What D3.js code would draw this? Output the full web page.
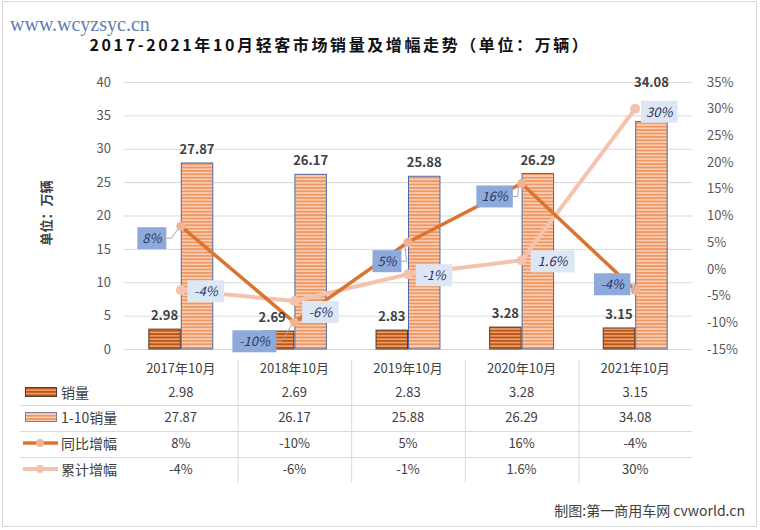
<!DOCTYPE html>
<html>
<head>
<meta charset="utf-8">
<script src="https://cdn.jsdelivr.net/npm/d3@7"></script>
<style>
  body { margin: 0; background: #fff; }
  svg { display: block; font-family: "Noto Sans CJK SC", "Noto Sans", sans-serif; }
</style>
</head>
<body>
<svg width="760" height="530"></svg>
<script>
const categories = ['2017年10月', '2018年10月', '2019年10月', '2020年10月', '2021年10月'];
const monthSales = [2.98, 2.69, 2.83, 3.28, 3.15];
const ytdSales = [27.87, 26.17, 25.88, 26.29, 34.08];
const yoyGrowth = [8, -10, 5, 16, -4];
const ytdGrowth = [-4, -6, -1, 1.6, 30];
const yoyLabels = ['8%', '-10%', '5%', '16%', '-4%'];
const ytdLabels = ['-4%', '-6%', '-1%', '1.6%', '30%'];
const leftTicks = [0, 5, 10, 15, 20, 25, 30, 35, 40];
const rightTicks = [-15, -10, -5, 0, 5, 10, 15, 20, 25, 30, 35];

// where the data label boxes sit relative to their point (box centre offsets)
const yoyOffsets = [[-29, 12], [-40, 19], [-21, 19], [-27, 13], [-23, -6]];
const ytdOffsets = [[25, 1], [26, 11], [26, 1], [31, 1], [24, 3]];
// extra lift / shift for bar value labels that would hit a box
const ytdValueLift = [0, 0, 0, 0, 26];
const monthValueShift = [0, -6, 0, 0, 0];

const svg = d3.select('svg');
const textColor = '#404040';
const axisColor = '#595959';

const plot = {left: 124, right: 692, top: 82, bottom: 349};

// chart frame
svg.append('rect')
  .attr('x', 2.5).attr('y', 1.5).attr('width', 754).attr('height', 525)
  .attr('fill', '#fff').attr('stroke', '#d9d9d9');

// patterns
const defs = svg.append('defs');
const p1 = defs.append('pattern').attr('id', 'stripe-month')
  .attr('patternUnits', 'userSpaceOnUse').attr('width', 6).attr('height', 3.4);
p1.append('rect').attr('width', 6).attr('height', 3.4).attr('fill', '#f0a068');
p1.append('rect').attr('y', 0).attr('width', 6).attr('height', 1.8).attr('fill', '#b85418');
const p2 = defs.append('pattern').attr('id', 'stripe-ytd')
  .attr('patternUnits', 'userSpaceOnUse').attr('width', 6).attr('height', 3.4);
p2.append('rect').attr('width', 6).attr('height', 3.4).attr('fill', '#fbd0b6');
p2.append('rect').attr('y', 0).attr('width', 6).attr('height', 1.8).attr('fill', '#ef9762');

// watermark
svg.append('text')
  .attr('x', 10).attr('y', 31)
  .attr('font-family', '"Liberation Serif", serif')
  .attr('font-size', 20)
  .attr('fill', '#4d6fae')
  .attr('opacity', 0.9)
  .text('www.wcyzsyc.cn');

// title
svg.append('text')
  .attr('x', 340).attr('y', 51)
  .attr('text-anchor', 'middle')
  .attr('font-size', 16)
  .attr('font-weight', 'bold')
  .attr('letter-spacing', 2.6)
  .attr('fill', '#111')
  .text('2017-2021年10月轻客市场销量及增幅走势（单位：万辆）');

const x = d3.scaleBand().domain(categories).range([plot.left, plot.right]);
const xInner = d3.scaleBand().domain(['month', 'ytd'])
  .range([0, x.bandwidth()]).paddingInner(0).paddingOuter(0.75);
const yL = d3.scaleLinear().domain([0, 40]).range([plot.bottom, plot.top]);
const yR = d3.scaleLinear().domain([-15, 35]).range([plot.bottom, plot.top]);

// gridlines
svg.append('g').selectAll('line').data(leftTicks).join('line')
  .attr('x1', plot.left).attr('x2', plot.right)
  .attr('y1', d => yL(d) + 0.5).attr('y2', d => yL(d) + 0.5)
  .attr('stroke', '#d9d9d9');

// left axis
const gl = svg.append('g')
  .attr('transform', `translate(${plot.left - 8},0)`)
  .call(d3.axisLeft(yL).tickValues(leftTicks).tickSize(0).tickPadding(5));
gl.select('.domain').remove();
gl.selectAll('text').attr('font-size', 13).attr('fill', axisColor)
  .attr('font-family', '"Noto Sans CJK SC", sans-serif');

// right axis
const gr = svg.append('g')
  .attr('transform', `translate(${plot.right + 10},0)`)
  .call(d3.axisRight(yR).tickValues(rightTicks).tickSize(0).tickPadding(5)
    .tickFormat(d => d + '%'));
gr.select('.domain').remove();
gr.selectAll('text').attr('font-size', 13).attr('fill', axisColor)
  .attr('font-family', '"Noto Sans CJK SC", sans-serif');

// axis title
svg.append('text')
  .attr('transform', 'translate(51,213) rotate(-90)')
  .attr('text-anchor', 'middle')
  .attr('font-size', 13).attr('font-weight', 'bold')
  .attr('fill', textColor)
  .text('单位：万辆');

// bars
const barSeries = [
  {key: 'month', values: monthSales, lift: [0, 0, 0, 0, 0], shift: monthValueShift,
    fill: 'url(#stripe-month)', stroke: '#5b3a24'},
  {key: 'ytd', values: ytdSales, lift: ytdValueLift, shift: [0, 0, 0, 0, 0],
    fill: 'url(#stripe-ytd)', stroke: '#4e6aa6'},
];
barSeries.forEach(s => {
  svg.append('g').selectAll('rect').data(s.values).join('rect')
    .attr('x', (d, i) => x(categories[i]) + xInner(s.key) + 0.5)
    .attr('y', d => yL(d))
    .attr('width', xInner.bandwidth() - 1)
    .attr('height', d => yL(0) - yL(d))
    .attr('fill', s.fill)
    .attr('stroke', s.stroke).attr('stroke-width', 1);
});

// lines
const cx = i => x(categories[i]) + x.bandwidth() / 2;
const line = d3.line().x((d, i) => cx(i)).y(d => yR(d));
const lineSeries = [
  {values: ytdGrowth, color: '#f4c3ad', width: 4, marker: '#f4c3ad', r: 5},
  {values: yoyGrowth, color: '#dc7430', width: 3.5, marker: '#f2b395', r: 4.5},
];
lineSeries.forEach(s => {
  svg.append('path').datum(s.values)
    .attr('d', line)
    .attr('fill', 'none')
    .attr('stroke', s.color).attr('stroke-width', s.width)
    .attr('stroke-linejoin', 'round');
  svg.append('g').selectAll('circle').data(s.values).join('circle')
    .attr('cx', (d, i) => cx(i)).attr('cy', d => yR(d))
    .attr('r', s.r).attr('fill', s.marker);
});

// bar value labels, drawn over the lines
barSeries.forEach(s => {
  svg.append('g').selectAll('text').data(s.values).join('text')
    .attr('x', (d, i) => x(categories[i]) + xInner(s.key) + xInner.bandwidth() / 2 + s.shift[i])
    .attr('y', (d, i) => yL(d) - 9 - s.lift[i])
    .attr('text-anchor', 'middle')
    .attr('font-size', 13).attr('font-weight', 'bold')
    .attr('fill', textColor)
    .text(d => d.toFixed(2));
});

// data label boxes
function labelBoxes(values, labels, offsets, fill, leader) {
  const g = svg.append('g');
  values.forEach((v, i) => {
    const px = cx(i), py = yR(v);
    const bx = px + offsets[i][0], by = py + offsets[i][1];
    const w = labels[i].length * 7.5 + 14, h = 22;
    if (leader) {
      g.append('polyline')
        .attr('points', [[bx + w / 2, by], [bx + w / 2 + 5, by], [px - 3, py + 3]].join(' '))
        .attr('fill', 'none').attr('stroke', '#a6a6a6').attr('stroke-width', 1);
    }
    g.append('rect')
      .attr('x', bx - w / 2).attr('y', by - h / 2)
      .attr('width', w).attr('height', h)
      .attr('fill', fill);
    g.append('text')
      .attr('x', bx).attr('y', by + 5)
      .attr('text-anchor', 'middle')
      .attr('font-size', 13).attr('font-style', 'italic')
      .attr('fill', '#2a3760')
      .text(labels[i]);
  });
}
labelBoxes(ytdGrowth, ytdLabels, ytdOffsets, '#dde6f4', false);
labelBoxes(yoyGrowth, yoyLabels, yoyOffsets, '#8eaadb', true);

// data table
const rowY = [392, 417, 443, 469];
const rowNames = ['销量', '1-10销量', '同比增幅', '累计增幅'];
const rowValues = [
  monthSales.map(d => d.toFixed(2)),
  ytdSales.map(d => d.toFixed(2)),
  yoyLabels,
  ytdLabels,
];
const table = svg.append('g');
table.selectAll('text.cat').data(categories).join('text')
  .attr('class', 'cat')
  .attr('x', (d) => x(d) + x.bandwidth() / 2).attr('y', 373)
  .attr('text-anchor', 'middle')
  .attr('font-size', 13).attr('fill', textColor)
  .text(d => d);
[405, 431, 457].forEach(yy => {
  table.append('line')
    .attr('x1', 20).attr('x2', plot.right)
    .attr('y1', yy + 0.5).attr('y2', yy + 0.5)
    .attr('stroke', '#d9d9d9');
});
categories.slice(1).forEach(c => {
  table.append('line')
    .attr('x1', x(c) + 0.5).attr('x2', x(c) + 0.5)
    .attr('y1', 360).attr('y2', 483)
    .attr('stroke', '#d9d9d9');
});
rowValues.forEach((vals, r) => {
  table.append('g').selectAll('text').data(vals).join('text')
    .attr('x', (d, i) => cx(i)).attr('y', rowY[r] + 5)
    .attr('text-anchor', 'middle')
    .attr('font-size', 13).attr('fill', textColor)
    .text(d => d);
  table.append('text')
    .attr('x', 61).attr('y', rowY[r] + 5.5)
    .attr('font-size', 14).attr('fill', textColor)
    .text(rowNames[r]);
});
// legend keys
table.append('rect').attr('x', 25.5).attr('y', 387.5).attr('width', 31).attr('height', 9)
  .attr('fill', 'url(#stripe-month)').attr('stroke', '#5b3a24');
table.append('rect').attr('x', 25.5).attr('y', 412.5).attr('width', 31).attr('height', 9)
  .attr('fill', 'url(#stripe-ytd)').attr('stroke', '#7a7f98');
[[2, lineSeries[1]], [3, lineSeries[0]]].forEach(([r, s]) => {
  table.append('line').attr('x1', 23).attr('x2', 58)
    .attr('y1', rowY[r]).attr('y2', rowY[r])
    .attr('stroke', s.color).attr('stroke-width', s.width);
  table.append('circle').attr('cx', 40).attr('cy', rowY[r]).attr('r', 4)
    .attr('fill', s.marker);
});

// source note
svg.append('text')
  .attr('x', 745).attr('y', 516)
  .attr('text-anchor', 'end')
  .attr('font-size', 14).attr('fill', textColor)
  .text('制图:第一商用车网 cvworld.cn');
</script>
</body>
</html>
